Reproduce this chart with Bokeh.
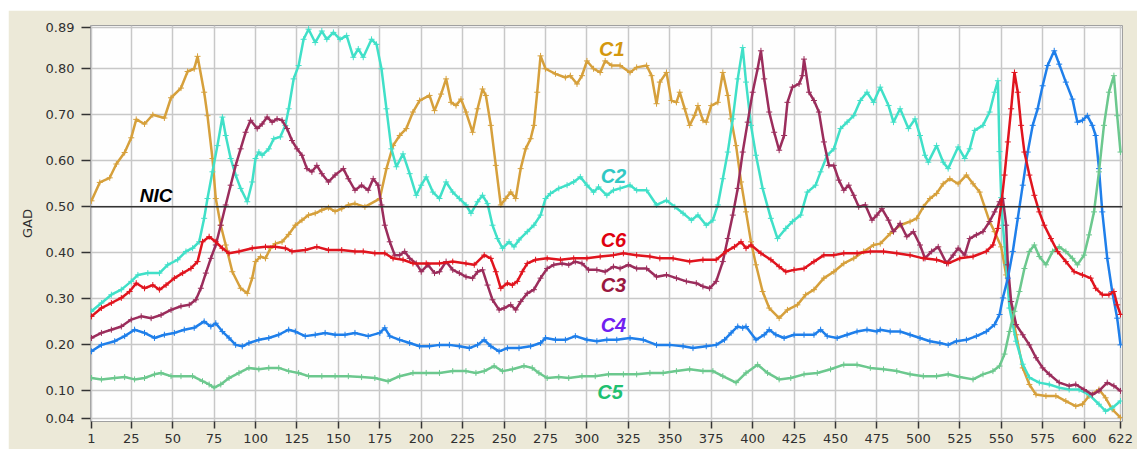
from bokeh.plotting import figure
from bokeh.models import FixedTicker, NumeralTickFormatter, Span, Range1d, ColumnDataSource
from bokeh.core.properties import value
from bokeh.embed import file_html
from bokeh.resources import INLINE

# ---------------- data ----------------
c1 = [(1,0.513),(6,0.553),(12,0.563),(16,0.593),(21,0.618),(25,0.65),(28,0.69),(33,0.68),(38,0.70),(45,0.693),
      (49,0.737),(55,0.758),(59,0.794),(63,0.80),(65,0.827),(69,0.749),(71,0.698),(74,0.605),(76,0.518),(79,0.46),
      (82,0.417),(86,0.359),(91,0.323),(95,0.312),(98,0.345),(100,0.381),(103,0.392),(106,0.388),(109,0.41),(112,0.42),
      (116,0.424),(120,0.44),(124,0.46),(128,0.471),(132,0.482),(136,0.486),(140,0.493),(144,0.498),(148,0.49),(152,0.496),
      (156,0.504),(160,0.507),(166,0.50),(175,0.518),(179,0.583),(183,0.633),(187,0.655),(191,0.67),(195,0.706),(199,0.731),
      (205,0.742),(208,0.709),(212,0.745),(215,0.778),(218,0.727),(221,0.72),(224,0.734),(227,0.706),(231,0.662),(234,0.713),
      (237,0.756),(239,0.742),(242,0.677),(245,0.59),(248,0.504),(251,0.518),(254,0.532),(257,0.518),(260,0.583),(263,0.626),
      (266,0.648),(268,0.677),(270,0.749),(272,0.828),(275,0.80),(281,0.789),(287,0.781),(290,0.785),(294,0.767),(297,0.785),
      (300,0.817),(304,0.80),(308,0.792),(311,0.817),(315,0.807),(320,0.807),(326,0.792),(330,0.803),(336,0.807),(339,0.785),
      (342,0.724),(344,0.771),(348,0.792),(351,0.731),(354,0.727),(356,0.749),(359,0.713),(362,0.677),(365,0.699),(367,0.72),
      (370,0.688),(372,0.684),(375,0.72),(379,0.727),(382,0.792),(385,0.742),(387,0.691),(390,0.633),(393,0.554),(396,0.489),
      (399,0.424),(402,0.374),(406,0.316),(410,0.28),(416,0.258),(421,0.276),(427,0.287),(432,0.309),(437,0.32),(443,0.345),
      (449,0.359),(455,0.377),(461,0.388),(467,0.403),(473,0.417),(477,0.42),(483,0.442),(489,0.46),(495,0.468),(499,0.475),
      (503,0.50),(507,0.518),(511,0.529),(515,0.55),(519,0.561),(524,0.55),(529,0.569),(533,0.55),(537,0.532),(540,0.50),
      (543,0.468),(546,0.446),(550,0.413),(553,0.352),(556,0.28),(559,0.222),(563,0.15),(567,0.114),(571,0.092),(577,0.089),
      (583,0.089),(589,0.078),(595,0.067),(599,0.071),(603,0.089),(609,0.103),(613,0.085),(617,0.06),(622,0.042)]

c2 = [(1,0.273),(7,0.291),(13,0.309),(19,0.32),(25,0.338),(29,0.352),(35,0.356),(42,0.356),(47,0.374),(53,0.385),
      (58,0.403),(62,0.41),(66,0.424),(69,0.475),(71,0.518),(74,0.576),(77,0.633),(80,0.695),(82,0.655),(85,0.605),
      (88,0.569),(91,0.54),(95,0.511),(98,0.554),(100,0.605),(102,0.619),(104,0.612),(108,0.626),(111,0.648),(115,0.652),
      (118,0.677),(120,0.713),(123,0.778),(126,0.807),(129,0.864),(132,0.886),(136,0.857),(140,0.882),(143,0.864),(147,0.879),
      (151,0.864),(155,0.872),(159,0.825),(162,0.843),(165,0.825),(170,0.864),(173,0.853),(176,0.80),(179,0.713),(182,0.626),
      (185,0.587),(189,0.615),(193,0.572),(197,0.525),(200,0.547),(203,0.565),(207,0.532),(211,0.518),(215,0.554),(219,0.532),
      (223,0.518),(227,0.504),(230,0.486),(234,0.511),(237,0.525),(240,0.507),(243,0.46),(246,0.431),(249,0.41),(253,0.424),
      (256,0.413),(259,0.428),(264,0.446),(268,0.46),(272,0.482),(275,0.518),(278,0.529),(283,0.54),(288,0.547),(292,0.554),
      (296,0.565),(300,0.547),(304,0.532),(307,0.543),(312,0.525),(316,0.536),(320,0.54),(326,0.547),(330,0.536),(336,0.536),
      (342,0.504),(348,0.514),(353,0.50),(358,0.486),(363,0.471),(367,0.482),(372,0.46),(376,0.471),(379,0.504),(382,0.561),
      (385,0.619),(388,0.691),(391,0.778),(394,0.846),(396,0.771),(399,0.677),(402,0.612),(406,0.54),(411,0.475),(415,0.431),
      (420,0.453),(424,0.468),(429,0.482),(433,0.532),(438,0.547),(441,0.576),(445,0.612),(449,0.626),(453,0.67),(457,0.684),
      (461,0.698),(465,0.731),(469,0.749),(473,0.727),(477,0.76),(482,0.72),(485,0.684),(489,0.713),(494,0.67),(498,0.691),
      (501,0.655),(504,0.612),(506,0.597),(511,0.633),(515,0.597),(518,0.583),(524,0.63),(528,0.605),(531,0.626),(534,0.666),
      (539,0.677),(543,0.706),(546,0.749),(548,0.774),(549,0.62),(550,0.52),(551,0.46),(553,0.374),(555,0.28),(557,0.244),
      (559,0.208),(563,0.158),(567,0.129),(573,0.118),(579,0.114),(585,0.107),(591,0.103),(597,0.103),(603,0.092),(609,0.071),
      (613,0.056),(617,0.063),(622,0.078)]

c3 = [(1,0.215),(7,0.226),(13,0.233),(19,0.24),(25,0.255),(31,0.262),(37,0.258),(43,0.265),(49,0.276),(55,0.284),
      (60,0.287),(64,0.298),(67,0.323),(70,0.356),(73,0.388),(76,0.417),(79,0.46),(82,0.504),(85,0.547),(88,0.59),
      (91,0.626),(94,0.662),(97,0.688),(101,0.67),(104,0.68),(107,0.695),(110,0.684),(113,0.691),(116,0.688),(119,0.67),
      (122,0.644),(125,0.626),(128,0.612),(131,0.583),(134,0.576),(137,0.59),(140,0.572),(144,0.554),(148,0.569),(153,0.583),
      (156,0.561),(160,0.536),(164,0.547),(168,0.536),(171,0.561),(174,0.547),(176,0.504),(178,0.46),(181,0.424),(184,0.395),
      (187,0.395),(190,0.403),(193,0.388),(197,0.377),(200,0.359),(204,0.374),(208,0.356),(211,0.359),(215,0.381),(219,0.363),
      (223,0.356),(227,0.348),(231,0.345),(234,0.359),(237,0.363),(240,0.33),(243,0.298),(247,0.276),(250,0.28),(254,0.287),
      (257,0.276),(260,0.294),(264,0.312),(268,0.32),(272,0.345),(276,0.366),(280,0.374),(285,0.377),(289,0.374),(293,0.381),
      (297,0.377),(301,0.363),(306,0.363),(311,0.359),(316,0.37),(320,0.366),(325,0.374),(330,0.366),(336,0.366),(342,0.348),
      (348,0.352),(354,0.345),(360,0.338),(366,0.334),(370,0.327),(374,0.323),(378,0.338),(382,0.381),(385,0.431),(388,0.482),
      (391,0.54),(394,0.619),(397,0.684),(400,0.749),(403,0.80),(405,0.839),(407,0.778),(410,0.706),(413,0.662),(416,0.623),
      (419,0.655),(421,0.727),(424,0.76),(428,0.767),(430,0.785),(431,0.821),(434,0.749),(437,0.731),(440,0.706),(443,0.641),
      (446,0.59),(449,0.59),(452,0.558),(455,0.536),(458,0.547),(461,0.525),(464,0.50),(468,0.504),(472,0.471),(475,0.482),
      (478,0.496),(482,0.471),(485,0.446),(489,0.464),(493,0.435),(497,0.446),(501,0.417),(504,0.388),(508,0.403),(512,0.413),
      (517,0.377),(521,0.395),(524,0.41),(528,0.395),(531,0.431),(535,0.439),(539,0.446),(543,0.468),(546,0.489),(549,0.511),
      (551,0.518),(553,0.46),(554,0.374),(556,0.294),(559,0.244),(563,0.222),(567,0.20),(571,0.172),(575,0.15),(579,0.136),
      (585,0.118),(591,0.111),(595,0.114),(600,0.103),(605,0.092),(609,0.10),(614,0.118),(618,0.111),(622,0.10)]

c4 = [(1,0.186),(7,0.20),(15,0.208),(21,0.219),(27,0.233),(33,0.226),(39,0.215),(45,0.222),(51,0.226),(57,0.233),
      (63,0.237),(69,0.251),(73,0.24),(76,0.247),(80,0.229),(84,0.215),(88,0.20),(92,0.197),(96,0.204),(102,0.211),
      (108,0.215),(114,0.222),(120,0.233),(124,0.229),(130,0.219),(136,0.222),(142,0.226),(148,0.222),(154,0.222),(160,0.226),
      (168,0.219),(175,0.226),(178,0.237),(181,0.219),(187,0.211),(193,0.204),(199,0.197),(205,0.197),(211,0.20),(217,0.20),
      (223,0.197),(229,0.193),(234,0.20),(238,0.211),(242,0.197),(247,0.186),(252,0.193),(259,0.193),(266,0.197),(272,0.204),
      (275,0.215),(281,0.211),(287,0.211),(293,0.219),(300,0.211),(306,0.208),(312,0.211),(318,0.211),(326,0.215),(334,0.211),
      (342,0.20),(350,0.20),(358,0.197),(364,0.193),(372,0.197),(378,0.20),(383,0.211),(387,0.226),(391,0.24),(394,0.237),
      (396,0.24),(402,0.211),(407,0.222),(410,0.233),(414,0.222),(419,0.215),(425,0.222),(431,0.222),(437,0.222),(441,0.233),
      (445,0.219),(451,0.215),(457,0.222),(463,0.229),(469,0.233),(475,0.229),(477,0.233),(483,0.229),(489,0.229),(495,0.222),
      (501,0.215),(507,0.208),(513,0.204),(518,0.20),(523,0.208),(529,0.211),(535,0.219),(541,0.229),(546,0.244),(549,0.266),
      (551,0.302),(554,0.345),(557,0.403),(560,0.475),(563,0.547),(566,0.619),(569,0.677),(572,0.713),(575,0.763),(578,0.807),
      (582,0.839),(585,0.81),(589,0.771),(593,0.734),(596,0.684),(599,0.688),(602,0.698),(605,0.677),(607,0.655),(609,0.583),
      (611,0.489),(614,0.388),(617,0.316),(620,0.258),(622,0.20)]

c5 = [(1,0.128),(7,0.125),(15,0.128),(21,0.13),(27,0.125),(33,0.128),(39,0.136),(43,0.139),(49,0.132),(55,0.132),
      (62,0.132),(68,0.121),(72,0.114),(75,0.107),(79,0.114),(84,0.128),(90,0.139),(96,0.15),(102,0.147),(108,0.15),
      (114,0.15),(120,0.143),(126,0.139),(132,0.132),(140,0.132),(148,0.132),(156,0.132),(164,0.13),(172,0.128),(180,0.121),
      (187,0.132),(195,0.139),(203,0.139),(211,0.139),(219,0.143),(227,0.143),(233,0.139),(238,0.143),(244,0.154),(249,0.143),
      (255,0.147),(262,0.154),(267,0.15),(271,0.139),(276,0.128),(283,0.13),(289,0.128),(297,0.132),(305,0.132),(313,0.136),
      (322,0.136),(330,0.136),(338,0.139),(346,0.139),(354,0.143),(362,0.147),(370,0.143),(376,0.143),(382,0.132),(390,0.118),
      (396,0.139),(403,0.157),(409,0.139),(416,0.125),(423,0.128),(431,0.136),(439,0.139),(447,0.147),(455,0.157),(463,0.157),
      (471,0.15),(479,0.147),(487,0.143),(495,0.136),(503,0.132),(511,0.132),(518,0.136),(525,0.13),(533,0.125),(539,0.136),
      (545,0.143),(549,0.154),(552,0.18),(555,0.229),(558,0.273),(561,0.316),(564,0.366),(567,0.403),(570,0.417),(573,0.392),
      (577,0.374),(581,0.403),(585,0.413),(589,0.403),(593,0.388),(596,0.374),(600,0.395),(603,0.439),(606,0.489),(609,0.576),
      (612,0.677),(615,0.749),(618,0.785),(620,0.698),(622,0.619)]

c6 = [(1,0.262),(7,0.28),(13,0.291),(19,0.302),(24,0.316),(28,0.334),(33,0.323),(38,0.33),(42,0.32),(46,0.33),
      (51,0.345),(56,0.356),(61,0.366),(65,0.381),(68,0.424),(72,0.435),(76,0.424),(80,0.41),(84,0.399),(90,0.403),
      (98,0.41),(106,0.413),(112,0.413),(118,0.41),(122,0.403),(130,0.406),(137,0.413),(144,0.406),(152,0.406),(160,0.403),
      (165,0.403),(172,0.399),(178,0.399),(183,0.388),(189,0.385),(195,0.377),(203,0.377),(211,0.377),(219,0.381),(227,0.377),
      (232,0.374),(238,0.395),(242,0.388),(245,0.359),(248,0.323),(252,0.334),(255,0.33),(258,0.338),(261,0.359),(264,0.377),
      (269,0.385),(276,0.388),(284,0.385),(292,0.388),(300,0.388),(308,0.392),(316,0.395),(322,0.399),(330,0.395),(338,0.392),
      (344,0.388),(352,0.388),(362,0.381),(370,0.385),(378,0.385),(384,0.403),(389,0.413),(393,0.424),(396,0.41),(399,0.417),
      (405,0.399),(411,0.385),(416,0.37),(420,0.359),(425,0.363),(431,0.366),(437,0.381),(443,0.395),(449,0.395),(455,0.399),
      (463,0.399),(471,0.403),(479,0.403),(487,0.399),(495,0.395),(503,0.388),(511,0.385),(518,0.377),(525,0.388),(533,0.392),
      (541,0.403),(545,0.417),(548,0.453),(550,0.504),(552,0.569),(554,0.641),(556,0.713),(558,0.792),(560,0.749),(562,0.677),
      (564,0.619),(567,0.569),(570,0.525),(573,0.489),(576,0.46),(580,0.431),(584,0.403),(589,0.381),(594,0.359),(599,0.352),
      (604,0.345),(607,0.323),(611,0.309),(615,0.309),(618,0.316),(620,0.287),(622,0.266)]

series_names = ["C1", "C2", "C3", "C4", "C5", "C6"]
line_colors = ["#D6A03C", "#40E0C8", "#9B2D5C", "#1F7FEA", "#6CC88E", "#E0141E"]
label_colors = ["#D4980E", "#30C8C4", "#9A1840", "#7020F0", "#20C070", "#E00010"]
label_x = [315, 316, 316, 316, 314, 316]
label_y = [0.842, 0.567, 0.33, 0.243, 0.097, 0.427]

nic_value = 0.50
nic_label = "NIC"
nic_label_x = 40
nic_label_y = 0.524

x_ticks = [1, 25, 50, 75, 100, 125, 150, 175, 200, 225, 250, 275, 300, 325, 350, 375, 400, 425, 450, 475, 500,
           525, 550, 575, 600, 622]
y_ticks = [0.04, 0.10, 0.20, 0.30, 0.40, 0.50, 0.60, 0.70, 0.80, 0.89]
y_label = "GAD"

# ---------------- figure ----------------
BEIGE = "#ECE9D8"
p = figure(frame_width=1032, frame_height=396,
           x_range=Range1d(0.4, 623.2), y_range=Range1d(0.0335, 0.894),
           output_backend="svg", toolbar_location=None,
           min_border_left=82, min_border_right=15, min_border_top=15, min_border_bottom=28)
p.margin = (10, 0, 0, 8)
p.border_fill_color = BEIGE
p.background_fill_color = "#FEFEFE"
p.outline_line_color = "#A0A0A0"
p.outline_line_width = 1

font = "DejaVu Sans"
for ax in (p.xaxis[0], p.yaxis[0]):
    ax.axis_line_color = None
    ax.major_tick_line_color = "#333333"
    ax.major_tick_line_width = 1.5
    ax.major_tick_in = 0
    ax.minor_tick_line_color = None
    ax.major_label_text_font = font
    ax.major_label_text_font_size = "13px"
    ax.major_label_text_color = "#303030"

p.xaxis.ticker = FixedTicker(ticks=x_ticks)
p.xaxis.major_tick_out = 7
p.xaxis.major_label_standoff = 5

p.yaxis.ticker = FixedTicker(ticks=y_ticks)
p.yaxis.formatter = NumeralTickFormatter(format="0.00")
p.yaxis.major_tick_out = 9
p.yaxis.major_label_standoff = 7
p.yaxis.axis_label = y_label
p.yaxis.axis_label_text_font = font
p.yaxis.axis_label_text_font_size = "13px"
p.yaxis.axis_label_text_font_style = "normal"
p.yaxis.axis_label_text_color = "#303030"
p.yaxis.axis_label_standoff = 8

p.xgrid.ticker = FixedTicker(ticks=x_ticks)
p.ygrid.ticker = FixedTicker(ticks=y_ticks)
for g in (p.xgrid[0], p.ygrid[0]):
    g.grid_line_color = "#C8C8C8"
    g.grid_line_width = 1.5

all_series = [c1, c2, c3, c4, c5, c6]
for data, color in zip(all_series, line_colors):
    xs = [d[0] for d in data]
    ys = [d[1] for d in data]
    src = ColumnDataSource(dict(x=xs, y=ys))
    p.line("x", "y", source=src, line_color=color, line_width=2.5)
    p.scatter("x", "y", source=src, marker="cross", size=6, line_color=color, line_width=1)

p.add_layout(Span(location=nic_value, dimension="width", line_color="#333333", line_width=1.5))

lbl_src = ColumnDataSource(dict(x=label_x, y=label_y, t=series_names, c=label_colors))
p.text("x", "y", text="t", source=lbl_src, text_color="c", text_font=value("Liberation Sans"),
       text_font_style="bold italic", text_font_size="20px", text_align="center", text_baseline="middle")

p.text(x=[nic_label_x], y=[nic_label_y], text=[nic_label], text_color="#000000",
       text_font=value("Liberation Sans"), text_font_style="bold italic", text_font_size="19px",
       text_align="center", text_baseline="middle")

open("out.html", "w").write(file_html(p, INLINE))
